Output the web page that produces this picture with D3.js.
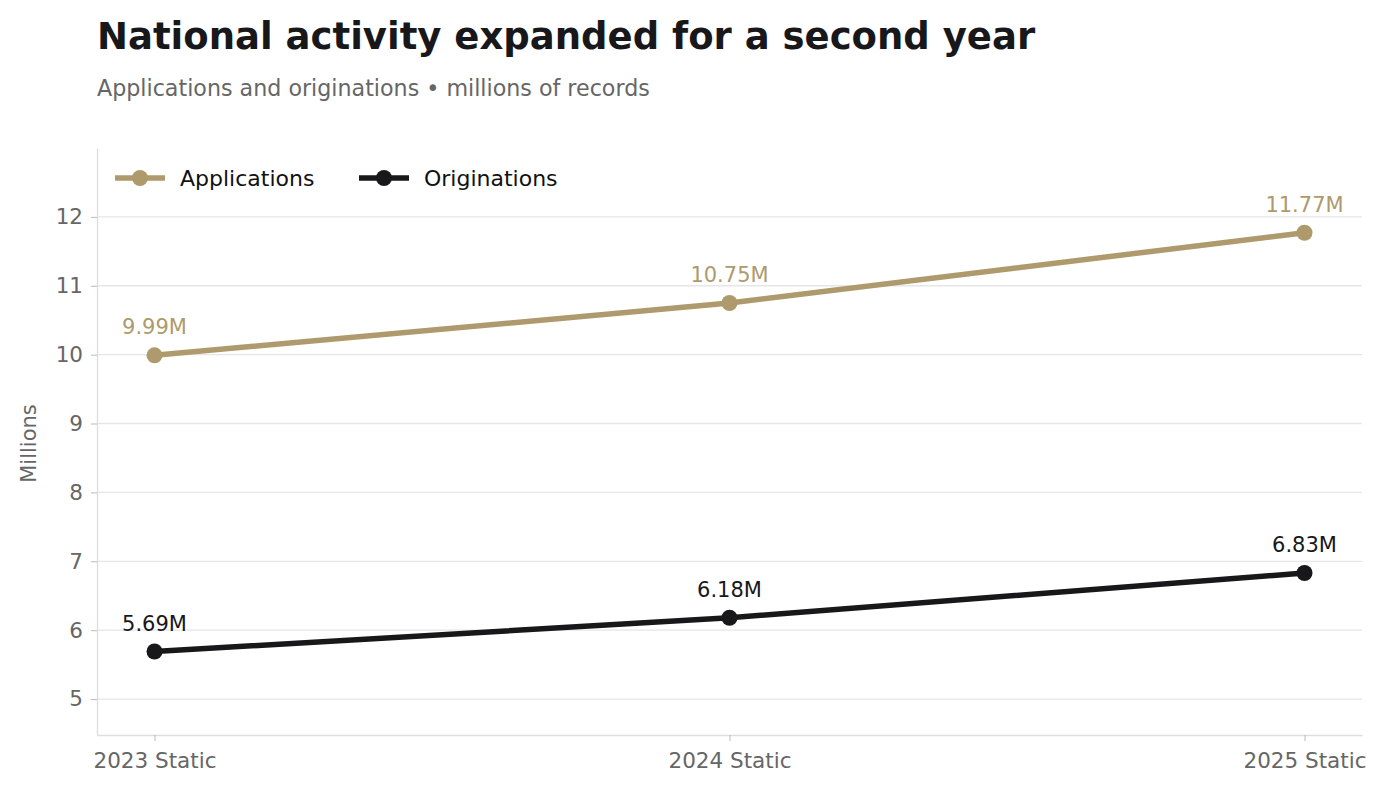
<!DOCTYPE html>
<html><head><meta charset="utf-8">
<script src="https://cdn.jsdelivr.net/npm/d3@7"></script>
<style>body{margin:0;background:#fff;font-family:"DejaVu Sans",sans-serif;}</style>
</head><body><svg id="c" width="1388" height="792"></svg>
<script>
const categories = ["2023 Static","2024 Static","2025 Static"];
const applications = [9.99,10.75,11.77];
const originations = [5.69,6.18,6.83];
const yTicks = [5,6,7,8,9,10,11,12];
const seriesNames = ["Applications","Originations"];
const colors = ["#ae9a6c","#18181a"];

const svg = d3.select("#c");
const L=97,R=1362,T=148,B=735;
const x = d3.scalePoint().domain(categories).range([L,R]).padding(0.1);
const y = d3.scaleLinear().domain([4.478,13.0]).range([B,T]);

svg.append("text").attr("x",97).attr("y",49).attr("font-size",37).attr("font-weight","bold").attr("fill","#18181a").text("National activity expanded for a second year");
svg.append("text").attr("x",97).attr("y",96).attr("font-size",22.2).attr("fill","#666").text("Applications and originations • millions of records");

svg.append("g").selectAll("line").data(yTicks).join("line")
 .attr("x1",L).attr("x2",R).attr("y1",d=>y(d)).attr("y2",d=>y(d)).attr("stroke","#e6e6e6").attr("stroke-width",1.3);

const ya = svg.append("g").attr("transform",`translate(${L},0)`).call(d3.axisLeft(y).tickValues(yTicks).tickSize(6).tickSizeOuter(0).tickPadding(8));
const xa = svg.append("g").attr("transform",`translate(0,${B})`).call(d3.axisBottom(x).tickSize(6).tickSizeOuter(0).tickPadding(12));
[ya,xa].forEach(a=>{a.select(".domain").attr("stroke","#dddddd").attr("stroke-width",1.3);
 a.selectAll(".tick line").attr("stroke","#bbb");
 a.selectAll("text").attr("font-size",21.5).attr("fill","#666").attr("font-family","DejaVu Sans");});
svg.append("text").attr("transform",`translate(36,${(T+B)/2+2}) rotate(-90)`).attr("text-anchor","middle").attr("font-size",21).attr("fill","#666").text("Millions");

const data=[applications,originations];
const line=d3.line().x((d,i)=>x(categories[i])).y(d=>y(d));
data.forEach((s,k)=>{
 svg.append("path").datum(s).attr("d",line).attr("fill","none").attr("stroke",colors[k]).attr("stroke-width",5.5);
 svg.append("g").selectAll("circle").data(s).join("circle").attr("cx",(d,i)=>x(categories[i])).attr("cy",d=>y(d)).attr("r",8).attr("fill",colors[k]);
 svg.append("g").selectAll("text").data(s).join("text").attr("x",(d,i)=>x(categories[i])).attr("y",d=>y(d)-21)
  .attr("text-anchor","middle").attr("font-size",21).attr("fill",colors[k]).text(d=>d.toFixed(2)+"M");
});

const lg=[[115,"Applications"],[359,"Originations"]];
lg.forEach(([lx,name],k)=>{
 svg.append("line").attr("x1",lx).attr("x2",lx+50).attr("y1",178).attr("y2",178).attr("stroke",colors[k]).attr("stroke-width",5.5);
 svg.append("circle").attr("cx",lx+25).attr("cy",178).attr("r",8).attr("fill",colors[k]);
 svg.append("text").attr("x",lx+65).attr("y",186).attr("font-size",22).attr("fill","#111").text(name);
});
</script></body></html>
